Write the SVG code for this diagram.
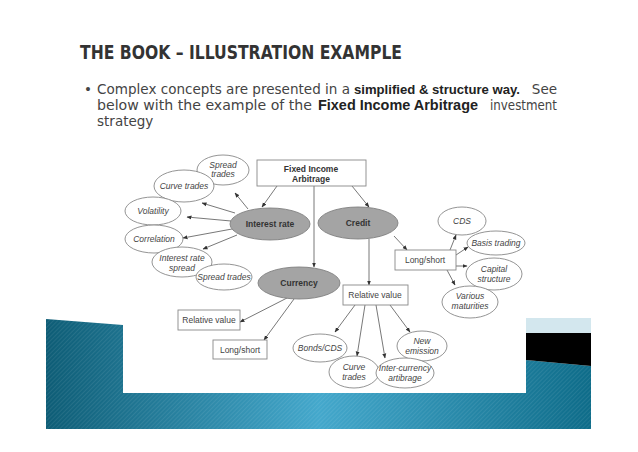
<svg xmlns="http://www.w3.org/2000/svg" width="638" height="452" viewBox="0 0 638 452">
<defs>
<linearGradient id="teal" x1="0" y1="0" x2="1" y2="0">
<stop offset="0" stop-color="#0e5d76"/>
<stop offset="0.5" stop-color="#44a8cc"/>
<stop offset="1" stop-color="#0e6c89"/>
</linearGradient>
<pattern id="hatch" width="3" height="3" patternUnits="userSpaceOnUse" patternTransform="rotate(45)">
<rect width="1" height="3" fill="#ffffff" opacity="0.08"/>
</pattern>
<marker id="ah" viewBox="0 0 10 10" refX="9" refY="5" markerWidth="5" markerHeight="5" orient="auto" markerUnits="userSpaceOnUse">
<path d="M0,1 L10,5 L0,9 Z" fill="#333"/>
</marker>
<style>
.title{font-family:"DejaVu Sans",sans-serif;font-weight:bold;font-size:19px;fill:#333}
.body{font-family:"DejaVu Sans",sans-serif;font-size:13.5px;fill:#444}
.b{font-family:"Liberation Sans",Arial,sans-serif;font-weight:bold;font-size:14.5px;fill:#222}
.oval{fill:#fff;stroke:#888;stroke-width:0.9}
.grey{fill:#a4a4a4;stroke:#808080;stroke-width:0.9}
.box{fill:#fff;stroke:#888;stroke-width:0.9}
.t{font-family:"Liberation Sans",Arial,sans-serif;font-size:8.5px;fill:#444;text-anchor:middle}
.it{font-style:italic}
.bt{font-weight:bold;fill:#333}
.con line{stroke:#555;stroke-width:0.8;marker-end:url(#ah)}
</style>
</defs>
<rect width="638" height="452" fill="#fff"/>
<!-- bottom band -->
<g id="band">
<path d="M46,319 L123,325 L123,393 L526,393 L526,360 L591,366 L591,429 L46,429 Z" fill="url(#teal)"/>
<path d="M46,319 L123,325 L123,393 L526,393 L526,360 L591,366 L591,429 L46,429 Z" fill="url(#hatch)"/>
<rect x="526" y="318" width="65" height="15" fill="#d3e7ee"/>
<path d="M526,333 L591,333 L591,366 L526,360 Z" fill="#000"/>
</g>
<!-- header text -->
<text class="title" x="80" y="59" textLength="322" lengthAdjust="spacingAndGlyphs">THE BOOK – ILLUSTRATION EXAMPLE</text>
<text class="body" x="84" y="94">•</text>
<text class="body" x="97" y="94" textLength="253" lengthAdjust="spacingAndGlyphs">Complex concepts are presented in a</text>
<text class="b" x="354" y="94" style="font-size:13.5px" textLength="166" lengthAdjust="spacingAndGlyphs">simplified &amp; structure way.</text>
<text class="body" x="557" y="94" text-anchor="end">See</text>
<text class="body" x="97" y="110" textLength="215" lengthAdjust="spacingAndGlyphs">below with the example of the</text>
<text class="b" x="318" y="110" textLength="160" lengthAdjust="spacingAndGlyphs">Fixed Income Arbitrage</text>
<text class="body" x="490" y="110" textLength="67" lengthAdjust="spacingAndGlyphs">investment</text>
<text class="body" x="97" y="126">strategy</text>

<!-- connectors -->
<g class="con" id="connectors">
<line x1="277" y1="186" x2="262" y2="207"/>
<line x1="314" y1="186" x2="314" y2="267"/>
<line x1="352" y1="186" x2="369" y2="207"/>
<line x1="248" y1="209" x2="235" y2="193"/>
<line x1="235" y1="213" x2="202" y2="203"/>
<line x1="231" y1="221" x2="187" y2="217"/>
<line x1="232" y1="229" x2="183" y2="238"/>
<line x1="237" y1="235" x2="203" y2="249"/>
<line x1="394" y1="236" x2="407" y2="250"/>
<line x1="369" y1="239" x2="369" y2="285"/>
<line x1="450" y1="250" x2="456" y2="235"/>
<line x1="456" y1="255" x2="468" y2="247"/>
<line x1="456" y1="266" x2="467" y2="266"/>
<line x1="447" y1="270" x2="455" y2="285"/>
<line x1="355" y1="305" x2="335" y2="332"/>
<line x1="365" y1="305" x2="357" y2="356"/>
<line x1="376" y1="305" x2="385" y2="358"/>
<line x1="390" y1="305" x2="410" y2="332"/>
<line x1="287" y1="298" x2="240" y2="322"/>
<line x1="294" y1="299" x2="264" y2="340"/>
</g>

<g id="fia"><rect class="box" x="257" y="160" width="109" height="26"/>
<text class="t bt" x="311" y="172">Fixed Income</text><text class="t bt" x="311" y="182">Arbitrage</text></g>
<g id="interest"><ellipse class="grey" cx="270" cy="224" rx="40" ry="16"/><text class="t bt" x="270" y="227">Interest rate</text></g>
<g id="credit"><ellipse class="grey" cx="358" cy="223" rx="40" ry="16"/><text class="t bt" x="358" y="226">Credit</text></g>
<g id="currency"><ellipse class="grey" cx="299" cy="283" rx="41" ry="16"/><text class="t bt" x="299" y="286">Currency</text></g>

<g id="spread1"><ellipse class="oval" cx="223" cy="170" rx="26" ry="15"/><text class="t it" x="223" y="168">Spread</text><text class="t it" x="223" y="177">trades</text></g>
<g id="curve1"><ellipse class="oval" cx="184" cy="186" rx="30" ry="16"/><text class="t it" x="184" y="189">Curve trades</text></g>
<g id="vol"><ellipse class="oval" cx="153" cy="211" rx="28" ry="14"/><text class="t it" x="153" y="214">Volatility</text></g>
<g id="corr"><ellipse class="oval" cx="154" cy="239" rx="29" ry="14"/><text class="t it" x="154" y="242">Correlation</text></g>
<g id="irs"><ellipse class="oval" cx="182" cy="262" rx="30" ry="15"/><text class="t it" x="182" y="261">Interest rate</text><text class="t it" x="182" y="271">spread</text></g>
<g id="spread2"><ellipse class="oval" cx="224" cy="277" rx="28" ry="13"/><text class="t it" x="224" y="280">Spread trades</text></g>

<g id="ls1"><rect class="box" x="395" y="250" width="61" height="20"/><text class="t" x="425" y="263">Long/short</text></g>
<g id="cds"><ellipse class="oval" cx="462" cy="221" rx="24" ry="14"/><text class="t it" x="462" y="224">CDS</text></g>
<g id="basis"><ellipse class="oval" cx="496" cy="243" rx="29" ry="12"/><text class="t it" x="496" y="246">Basis trading</text></g>
<g id="capital"><ellipse class="oval" cx="494" cy="274" rx="28" ry="16"/><text class="t it" x="494" y="272">Capital</text><text class="t it" x="494" y="282">structure</text></g>
<g id="various"><ellipse class="oval" cx="470" cy="302" rx="28" ry="16"/><text class="t it" x="470" y="299">Various</text><text class="t it" x="470" y="309">maturities</text></g>

<g id="rv1"><rect class="box" x="343" y="285" width="65" height="20"/><text class="t" x="375" y="298">Relative value</text></g>
<g id="bonds"><ellipse class="oval" cx="320" cy="348" rx="27" ry="14"/><text class="t it" x="320" y="351">Bonds/CDS</text></g>
<g id="newem"><ellipse class="oval" cx="422" cy="346" rx="25" ry="15"/><text class="t it" x="422" y="344">New</text><text class="t it" x="422" y="354">emission</text></g>
<g id="curve2"><ellipse class="oval" cx="354" cy="372" rx="25" ry="16"/><text class="t it" x="354" y="370">Curve</text><text class="t it" x="354" y="380">trades</text></g>
<g id="inter"><ellipse class="oval" cx="405" cy="373" rx="29" ry="15"/><text class="t it" x="405" y="371">Inter-currency</text><text class="t it" x="405" y="381">artibrage</text></g>

<g id="rv2"><rect class="box" x="178" y="310" width="62" height="20"/><text class="t" x="209" y="323">Relative value</text></g>
<g id="ls2"><rect class="box" x="213" y="340" width="54" height="19"/><text class="t" x="240" y="353">Long/short</text></g>
</svg>
